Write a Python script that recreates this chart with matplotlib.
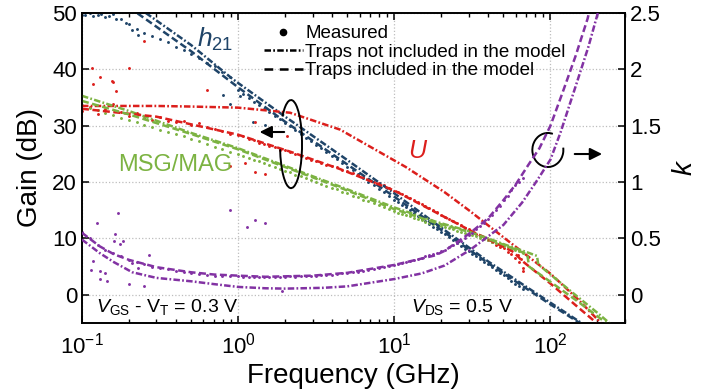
"""
plot.py
Gain (h21, U, MSG/MAG) and stability factor k versus frequency:
measured data vs. small-signal model with and without traps.
"""
import numpy as np
import matplotlib
matplotlib.use("Agg")
import matplotlib.pyplot as plt
from matplotlib.lines import Line2D
from matplotlib.patches import Arc

plt.rcParams["font.family"] = ["Liberation Sans", "DejaVu Sans"]
plt.rcParams["mathtext.fontset"] = "custom"
plt.rcParams["mathtext.rm"] = "Liberation Sans"
plt.rcParams["mathtext.it"] = "Liberation Sans:italic"
plt.rcParams["mathtext.bf"] = "Liberation Sans:bold"

# ---------------------------------------------------------------------------
# Measured data (GHz, dB / k)
# ---------------------------------------------------------------------------
f_meas = [0.100, 0.112, 0.126, 0.141, 0.158, 0.178, 0.200, 0.224, 0.251, 0.282,
          0.316, 0.355, 0.398, 0.447, 0.501, 0.562, 0.631, 0.708, 0.794, 0.891,
          1.00, 1.08, 1.17, 1.26, 1.36, 1.47, 1.58, 1.71, 1.85, 2.00,
          2.15, 2.32, 2.51, 2.71, 2.93, 3.16, 3.41, 3.68, 3.98, 4.29,
          4.64, 5.01, 5.41, 5.84, 6.31, 6.81, 7.36, 7.94, 8.58, 9.26,
          10.0, 10.6, 11.2, 11.9, 12.6, 13.3, 14.1, 15.0, 15.8, 16.8,
          17.8, 18.8, 20.0, 21.1, 22.4, 23.7, 25.1, 26.6, 28.2, 29.9,
          31.6, 33.5, 35.5, 37.6, 39.8, 42.2, 44.7, 47.3, 50.1, 53.1,
          56.2, 59.6, 63.1, 66.8]

h21_meas = [49.7, 49.9, 49.6, 49.3, 49.8, 48.9, 48.0, 47.2, 46.4, 45.9,
            45.3, 44.8, 44.0, 43.5, 42.8, 42.0, 41.2, 40.6, 39.6, 38.6,
            36.3, 35.6, 35.0, 34.2, 33.7, 33.0, 32.5, 31.7, 31.2, 30.4,
            29.9, 29.2, 28.6, 27.9, 27.3, 26.6, 26.0, 25.3, 24.7, 24.1,
            23.3, 22.7, 22.1, 21.4, 20.8, 20.1, 19.5, 18.8, 18.2, 17.5,
            16.9, 16.4, 15.9, 15.5, 15.0, 14.5, 14.0, 13.5, 13.1, 12.6,
            12.1, 11.6, 11.1, 10.7, 10.2, 9.7, 9.2, 8.7, 8.2, 7.8,
            7.3, 6.8, 6.3, 5.8, 5.4, 4.9, 4.4, 3.9, 3.5, 3.0,
            2.5, 2.0, 1.6, 1.1]

u_meas = [32.6, 33.3, 32.0, 32.9, 33.8, 32.4, 31.8, 32.3, 31.4, 31.0,
          31.5, 30.9, 30.6, 30.9, 30.2, 30.4, 29.8, 29.5, 29.1, 28.6,
          28.3, 28.1, 27.6, 27.5, 27.0, 26.8, 26.4, 26.2, 25.7, 25.6,
          25.3, 24.9, 24.7, 24.3, 24.0, 23.8, 23.4, 23.1, 22.8, 22.6,
          22.2, 21.9, 21.6, 21.2, 20.9, 20.5, 20.1, 19.8, 19.4, 19.0,
          18.5, 18.2, 17.9, 17.5, 17.2, 16.9, 16.5, 16.1, 15.8, 15.4,
          15.0, 14.7, 14.2, 13.8, 13.5, 13.1, 12.7, 12.3, 11.9, 11.6,
          11.2, 10.8, 10.4, 10.1, 9.7, 9.3, 8.9, 8.5, 8.3, 7.6,
          7.3, 6.6, 5.9, 4.8]

msg_meas = [33.6, 33.1, 32.8, 32.2, 31.9, 31.4, 31.0, 30.6, 30.1, 29.8,
            29.3, 28.9, 28.5, 28.1, 27.7, 27.2, 26.8, 26.3, 25.9, 25.4,
            25.0, 24.7, 24.3, 24.0, 23.7, 23.3, 23.0, 22.7, 22.3, 22.0,
            21.7, 21.3, 21.0, 20.7, 20.3, 20.0, 19.7, 19.3, 19.0, 18.7,
            18.3, 18.0, 17.6, 17.3, 16.9, 16.6, 16.2, 15.9, 15.5, 15.2,
            14.8, 14.6, 14.4, 14.1, 13.9, 13.7, 13.5, 13.2, 13.0, 12.8,
            12.6, 12.4, 12.2, 12.0, 11.8, 11.6, 11.4, 11.2, 11.0, 10.8,
            10.6, 10.4, 10.1, 9.9, 9.7, 9.4, 9.2, 8.9, 8.7, 8.4,
            8.2, 7.9, 7.7, 7.4]

k_meas = [0.56, 0.50, 0.44, 0.40, 0.37, 0.34, 0.31, 0.29, 0.27, 0.25,
          0.24, 0.225, 0.21, 0.20, 0.19, 0.185, 0.18, 0.17, 0.17, 0.165,
          0.165, 0.16, 0.16, 0.155, 0.16, 0.155, 0.16, 0.155, 0.16, 0.16,
          0.165, 0.16, 0.165, 0.165, 0.17, 0.17, 0.18, 0.18, 0.18, 0.185,
          0.19, 0.195, 0.20, 0.205, 0.21, 0.22, 0.225, 0.235, 0.245, 0.255,
          0.265, 0.275, 0.28, 0.29, 0.30, 0.31, 0.32, 0.33, 0.34, 0.35,
          0.36, 0.375, 0.39, 0.40, 0.42, 0.44, 0.46, 0.48, 0.50, 0.53,
          0.55, 0.58, 0.61, 0.64, 0.67, 0.71, 0.75, 0.79, 0.84, 0.88,
          0.93, 0.97, 1.00, 1.04]

# scattered measured points (outliers)
h21_out_f = [0.105, 0.118, 0.133, 0.148, 0.165, 0.19, 0.21, 0.23, 0.8, 0.89, 1.03, 1.25, 1.49]
h21_out_g = [49.6, 49.5, 49.8, 49.4, 49.0, 48.2, 47.0, 46.0, 35.4, 33.8, 35.2, 30.7, 30.2]

u_out_f = [0.116, 0.2, 0.158, 0.117, 0.165, 0.13, 0.155, 0.25, 0.63, 0.89, 1.11, 1.29, 1.49, 2.07, 1.29, 62.0, 65.0, 67.0]
u_out_g = [40.3, 40.3, 37.7, 37.4, 36.2, 38.6, 37.9, 45.0, 36.4, 22.9, 23.4, 21.8, 21.4, 28.1, 30.7, 7.0, 6.4, 4.2]

k_out_f = [0.17, 0.125, 0.163, 0.183, 0.118, 0.13, 0.145, 0.2, 0.25, 0.27, 0.13, 0.89,
           1.14, 1.29, 1.49, 1.9, 0.16, 0.175, 0.21, 0.23, 0.115, 0.14]
k_out_v = [0.73, 0.64, 0.54, 0.48, 0.30, 0.21, 0.125, 0.10, 0.08, 0.35, 0.14, 0.75,
           0.60, 0.66, 0.64, 0.035, 0.48, 0.45, 0.28, 0.24, 0.22, 0.19]

# ---------------------------------------------------------------------------
# Model curves: traps not included (dash-dot) / traps included (dashed)
# ---------------------------------------------------------------------------
h21_nt_f = [0.22, 0.5, 0.93, 2.0, 4.5, 10, 20, 30.7, 40, 64.3, 100, 156, 175]
h21_nt_g = [51.3, 44.3, 38.2, 31.6, 24.8, 18.0, 11.9, 8.2, 5.9, 2.1, -1.4, -4.9, -5.8]
h21_t_f = [0.2, 0.5, 1.0, 2.0, 4.5, 10, 20, 40, 64.3, 100, 160]
h21_t_g = [51.0, 43.2, 36.8, 30.7, 24.0, 17.4, 11.5, 5.6, 1.8, -1.7, -5.3]

u_nt_f = [0.1, 0.3, 0.49, 1.0, 2.15, 4.5, 11.8, 21, 30.7, 38.3, 60, 100, 150, 199, 210]
u_nt_g = [33.5, 33.5, 33.4, 33.2, 32.3, 29.3, 22.7, 18.2, 14.8, 12.7, 8.5, 3.75, -0.8, -4.3, -5.0]
u_t_f = [0.1, 0.3, 1.0, 2.15, 4.5, 10, 21, 30.7, 50, 58, 66, 100, 150, 190, 200]
u_t_g = [33.0, 31.6, 28.4, 25.4, 22.3, 18.5, 13.8, 11.4, 8.5, 7.6, 6.0, 2.0, -2.2, -4.6, -5.3]

msg_nt_f = [0.1, 0.2, 0.49, 1.0, 4.5, 10, 18.3, 30.7, 50, 70, 82.0, 83.5, 100, 150, 200, 243]
msg_nt_g = [35.3, 32.6, 28.8, 26.0, 19.2, 15.5, 13.0, 11.2, 9.0, 7.6, 6.9, 5.4, 3.6, -0.4, -3.2, -5.2]
msg_t_f = [0.1, 0.2, 0.49, 1.0, 4.5, 10, 18.3, 30.7, 50, 71, 73, 100, 150, 218, 235]
msg_t_g = [34.4, 32.0, 28.6, 25.8, 19.0, 15.2, 12.8, 11.1, 8.9, 7.2, 5.0, 2.3, -1.2, -4.6, -5.3]

k_nt_f = [0.1, 0.13, 0.16, 0.21, 0.3, 0.5, 0.7, 1.0, 1.5, 2.0, 3.5, 5.0, 10, 15, 21,
          30.7, 50, 66, 82.6, 100, 116, 145, 175, 203]
k_nt_v = [0.49, 0.37, 0.29, 0.20, 0.15, 0.12, 0.095, 0.07, 0.058, 0.055, 0.062, 0.075, 0.14, 0.19, 0.26,
          0.40, 0.62, 0.82, 1.02, 1.20, 1.44, 1.85, 2.20, 2.52]
k_t_f = [0.1, 0.13, 0.16, 0.2, 0.3, 0.5, 0.7, 1.0, 1.5, 3.0, 5.0, 10, 18.3, 21,
         30.7, 40, 50, 60, 72, 85, 100, 120, 145, 173, 180]
k_t_v = [0.55, 0.43, 0.36, 0.31, 0.245, 0.20, 0.18, 0.17, 0.16, 0.17, 0.195, 0.265, 0.35, 0.39,
         0.55, 0.68, 0.84, 0.98, 1.15, 1.30, 1.50, 1.80, 2.12, 2.45, 2.55]

# ---------------------------------------------------------------------------
# Styling
# ---------------------------------------------------------------------------
C_H21 = "#1f4468"
C_U = "#dc1f1c"
C_MSG = "#7cb342"
C_K = "#8232a3"
LW = 1.8
DASHDOT = (2.6, 0.9, 0.7, 0.9)
DASHED = (2.8, 1.4)
MS = 2.1

fig = plt.figure(figsize=(7.03, 3.92), dpi=100)
ax = fig.add_axes([0.1166, 0.176, 0.7724, 0.791])
ax2 = ax.twinx()

# measured dots
for f, g, c in [(f_meas, h21_meas, C_H21), (h21_out_f, h21_out_g, C_H21),
                (f_meas, u_meas, C_U), (u_out_f, u_out_g, C_U),
                (f_meas, msg_meas, C_MSG)]:
    ax.plot(f, g, ls="none", marker="o", ms=MS, mew=0, color=c, zorder=2)
for f, v in [(f_meas, k_meas), (k_out_f, k_out_v)]:
    ax2.plot(f, v, ls="none", marker="o", ms=MS, mew=0, color=C_K, zorder=2)

# model lines
for f, g, c in [(h21_nt_f, h21_nt_g, C_H21), (u_nt_f, u_nt_g, C_U), (msg_nt_f, msg_nt_g, C_MSG)]:
    ax.plot(f, g, color=c, lw=LW, dashes=DASHDOT, zorder=3)
for f, g, c in [(h21_t_f, h21_t_g, C_H21), (u_t_f, u_t_g, C_U), (msg_t_f, msg_t_g, C_MSG)]:
    ax.plot(f, g, color=c, lw=LW, dashes=DASHED, zorder=3)
ax2.plot(k_nt_f, k_nt_v, color=C_K, lw=LW, dashes=DASHDOT, zorder=3)
ax2.plot(k_t_f, k_t_v, color=C_K, lw=LW, dashes=DASHED, zorder=3)

# ---------------------------------------------------------------------------
# Axes
# ---------------------------------------------------------------------------
ax.set_xscale("log")
ax.set_xlim(0.1, 300)
ax.set_ylim(-5, 50)
ax.set_yticks([0, 10, 20, 30, 40, 50])
ax2.set_ylim(-0.25, 2.5)
ax2.set_yticks([0, 0.5, 1, 1.5, 2, 2.5])
ax2.set_yticklabels(["0", "0.5", "1", "1.5", "2", "2.5"])

ax.grid(True, which="major", ls=":", color="#bdbdbd", lw=0.9)
ax.set_axisbelow(True)

ax.tick_params(which="both", direction="in", top=True, right=False, labelsize=16)
ax.tick_params(axis="x", which="major", pad=7)
ax.tick_params(which="major", length=5, width=1.1)
ax.tick_params(which="minor", length=3, width=1.0)
ax2.tick_params(direction="in", length=5, width=1.1, labelsize=16)
for a in (ax, ax2):
    for s in a.spines.values():
        s.set_linewidth(1.2)

ax.set_xlabel("Frequency (GHz)", fontsize=20, labelpad=3)
ax.set_ylabel("Gain (dB)", fontsize=20, labelpad=7)
ax2.set_ylabel("$k$", fontsize=20, labelpad=8)

# ---------------------------------------------------------------------------
# Annotations
# ---------------------------------------------------------------------------
ax.text(0.212, 0.915, "$h_{21}$", transform=ax.transAxes, color=C_H21,
        fontsize=19, ha="left", va="center")
ax.text(0.619, 0.555, "$U$", transform=ax.transAxes, color=C_U,
        fontsize=18, ha="center", va="center")
ax.text(0.066, 0.51, "MSG/MAG", transform=ax.transAxes, color=C_MSG,
        fontsize=17, ha="left", va="center")
ax.text(0.026, 0.052, r"$V_{\rm GS}$ - V$_{\rm T}$ = 0.3 V", transform=ax.transAxes,
        fontsize=14, ha="left", va="center")
ax.text(0.606, 0.052, r"$V_{\rm DS}$ = 0.5 V", transform=ax.transAxes,
        fontsize=14, ha="left", va="center")

ax.add_patch(Arc((0.385, 0.577), 0.0405, 0.284, theta1=-140, theta2=100,
                 transform=ax.transAxes, color="k", lw=1.4, zorder=5))
ax.annotate("", xy=(0.322, 0.616), xytext=(0.3775, 0.616), xycoords="axes fraction",
            arrowprops=dict(arrowstyle="-|>", color="k", lw=1.5, mutation_scale=18))
ax.add_patch(Arc((0.858, 0.558), 0.0571, 0.1097, theta1=80, theta2=375,
                 transform=ax.transAxes, color="k", lw=1.4, zorder=5))
ax.annotate("", xy=(0.963, 0.545), xytext=(0.9024, 0.545), xycoords="axes fraction",
            arrowprops=dict(arrowstyle="-|>", color="k", lw=1.5, mutation_scale=18))

handles = [Line2D([], [], ls="none", marker="o", ms=4.5, color="k"),
           Line2D([], [], color="k", lw=LW, dashes=DASHDOT),
           Line2D([], [], color="k", lw=LW, dashes=(3.5, 2.6))]
ax.legend(handles, ["Measured", "Traps not included in the model", "Traps included in the model"],
          loc="upper left", bbox_to_anchor=(0.321, 0.985), frameon=False, fontsize=13.5,
          handlelength=2.1, handletextpad=0.1, labelspacing=0.08, borderaxespad=0)

fig.savefig("out.png", dpi=100)
